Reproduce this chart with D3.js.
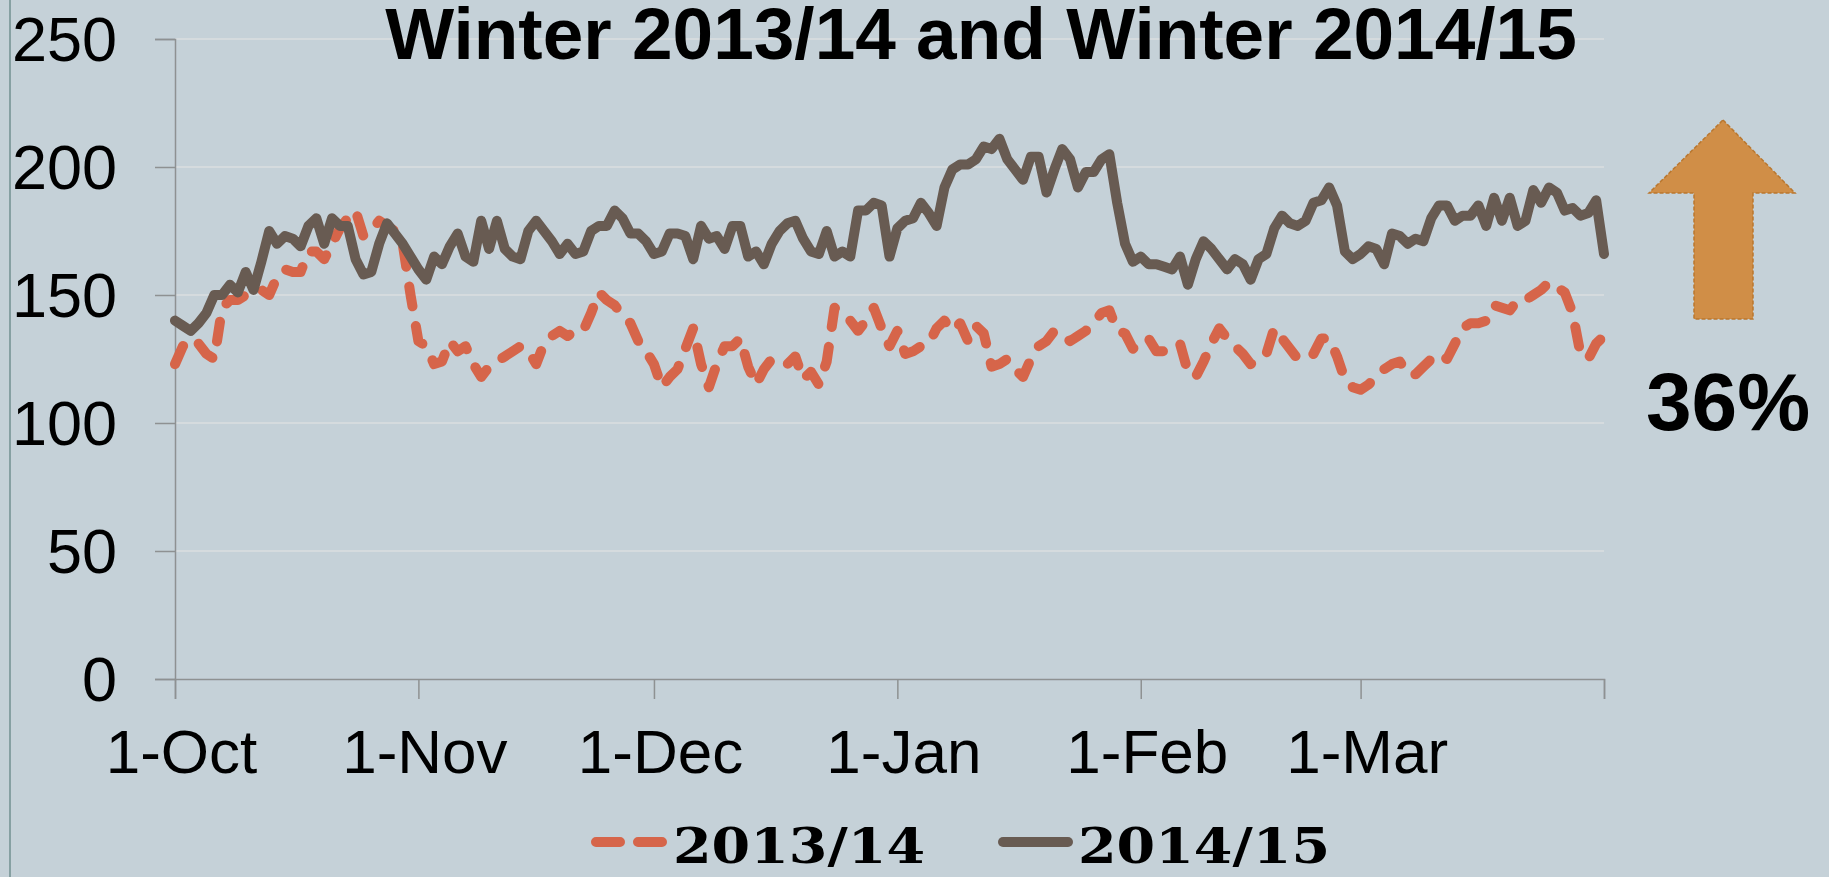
<!DOCTYPE html>
<html>
<head>
<meta charset="utf-8">
<script src="https://cdnjs.cloudflare.com/ajax/libs/d3/7.8.5/d3.min.js"></script>
<style>
  html, body { margin: 0; padding: 0; background: #C5D1D8; overflow: hidden; }
  text { font-family: "Liberation Sans", Arial, sans-serif; fill: #000; }
</style>
</head>
<body>
<div id="chart"></div>
<script>

// Daily readings, 1-Oct to 1-Apr
var season1415 = [
	140, 138, 136, 139, 143, 150, 150, 154, 151, 159,
	152, 163, 175, 170, 173, 172, 169, 177, 180, 170,
	180, 177, 177, 164, 158, 159, 170, 178, 174, 170,
	165, 160, 156, 165, 162, 169, 174, 165, 163, 179,
	168, 179, 168, 165, 164, 175, 179, 175, 171, 166,
	170, 166, 167, 175, 177, 177, 183, 180, 174, 174,
	171, 166, 167, 174, 174, 173, 164, 177, 172, 173,
	168, 177, 177, 165, 167, 162, 170, 175, 178, 179,
	172, 167, 166, 175, 165, 167, 165, 183, 183, 186,
	185, 165, 176, 179, 180, 186, 182, 177, 192, 199,
	201, 201, 203, 208, 207, 211, 203, 199, 195, 204,
	204, 190, 199, 207, 203, 192, 198, 198, 203, 205,
	186, 170, 163, 165, 162, 162, 161, 160, 165, 154,
	164, 171, 168, 164, 160, 164, 162, 156, 164, 166,
	176, 181, 178, 177, 179, 186, 187, 192, 185, 167,
	164, 166, 169, 168, 162, 174, 173, 170, 172, 171,
	180, 185, 185, 179, 181, 181, 185, 177, 188, 179,
	188, 177, 179, 191, 186, 192, 190, 183, 184, 181,
	182, 187, 166
];

var season1314 = [
	123, 130, 133, 131, 127, 125, 145, 148, 148, 150,
	151, 152, 150, 157, 160, 159, 159, 167, 167, 164,
	170, 176, 180, 183, 173, 175, 179, 177, 175, 170,
	150, 132, 130, 123, 124, 132, 128, 130, 123, 118,
	122, 124, 126, 128, 130, 128, 123, 131, 134, 136,
	134, 136, 136, 143, 151, 148, 146, 142, 139, 132,
	128, 123, 114, 118, 121, 129, 137, 123, 114, 123,
	130, 130, 133, 122, 115, 121, 125, 124, 123, 126,
	117, 120, 115, 124, 145, 143, 140, 136, 140, 145,
	137, 130, 136, 127, 128, 130, 131, 137, 140, 136,
	139, 132, 138, 135, 122, 123, 125, 121, 118, 125,
	130, 132, 136, 134, 132, 134, 136, 139, 143, 144,
	136, 135, 129, 132, 133, 128, 128, 130, 131, 120,
	118, 124, 131, 137, 133, 130, 127, 123, 125, 127,
	137, 133, 129, 125, 126, 127, 133, 133, 126, 117,
	114, 113, 115, 118, 121, 123, 124, 119, 119, 122,
	125, 127, 125, 131, 137, 139, 139, 140, 146, 145,
	144, 148, 148, 150, 152, 155, 153, 151, 143, 127,
	125, 131, 134
];

var seriesNames = ["2013/14", "2014/15"];
var yTicks = [0, 50, 100, 150, 200, 250];
var titleText = "Winter 2013/14 and Winter 2014/15";
var changeText = "36%";

var width = 1829,
height = 877;

var margin = {left: 175, right: 225, top: 39, bottom: 198};

var brown = "#685B52",
orange = "#D6654A";

var svg = d3.select("#chart")
.append("svg")
.attr("width", width)
.attr("height", height);

// background and the thin frame line at the left
svg.append("rect")
.attr("width", width)
.attr("height", height)
.attr("fill", "#C5D1D8");

svg.append("line")
.attr("x1", 10).attr("x2", 10)
.attr("y1", 0).attr("y2", height)
.attr("stroke", "#86A0A2")
.attr("stroke-width", 2);

// Scales
var start = new Date(Date.UTC(2014, 9, 1));
var end = new Date(Date.UTC(2015, 3, 1));

var x = d3.scaleUtc()
.domain([start, end])
.range([margin.left, width - margin.right]);

var y = d3.scaleLinear()
.domain([0, 250])
.range([height - margin.bottom, margin.top]);

var dayOf = (d, i) => d3.utcDay.offset(start, i);

// Gridlines
svg.append("g")
.selectAll("line")
.data(yTicks.filter(d => d > 0))
.enter().append("line")
.attr("x1", x.range()[0])
.attr("x2", x.range()[1])
.attr("y1", d => y(d))
.attr("y2", d => y(d))
.attr("stroke", "#DADEE1")
.attr("stroke-width", 1.5);

// Y axis
var yAxis = svg.append("g")
.attr("transform", "translate(" + margin.left + ",0)")
.call(d3.axisLeft(y).tickValues(yTicks).tickSize(20).tickPadding(38));

yAxis.selectAll("text")
.attr("dy", "0.34em")
.style("font-size", "63px");

// X axis, monthly ticks, no label on the closing tick
var months = d3.utcMonth.range(start, d3.utcDay.offset(end, 1));
var fmt = d3.utcFormat("%-d-%b");

var xAxis = svg.append("g")
.attr("transform", "translate(0," + y(0) + ")")
.call(d3.axisBottom(x).tickValues(months).tickSize(20).tickPadding(30)
	.tickFormat(d => +d == +end ? "" : fmt(d)));

xAxis.selectAll("text")
.attr("dx", 6)
.attr("dy", "0.71em")
.style("font-size", "62px");

svg.selectAll(".domain, .tick line")
.attr("stroke", "#8E9192")
.attr("stroke-width", 1.5);

// Lines
var line = d3.line()
.x((d, i) => x(dayOf(d, i)))
.y(d => y(d));

svg.append("path")
.datum(season1314)
.attr("d", line)
.attr("fill", "none")
.attr("stroke", orange)
.attr("stroke-width", 10)
.attr("stroke-linecap", "round")
.attr("stroke-linejoin", "round")
.attr("stroke-dasharray", "20,20");

svg.append("path")
.datum(season1415)
.attr("d", line)
.attr("fill", "none")
.attr("stroke", brown)
.attr("stroke-width", 10)
.attr("stroke-linecap", "round")
.attr("stroke-linejoin", "round");

// Title
svg.append("text")
.attr("x", 981)
.attr("y", 59)
.attr("text-anchor", "middle")
.style("font-size", "73px")
.style("font-weight", "bold")
.text(titleText);

// Up arrow with the change label
var arrow = d3.path();
arrow.moveTo(1723, 120);
arrow.lineTo(1795, 193);
arrow.lineTo(1753, 193);
arrow.lineTo(1753, 319);
arrow.lineTo(1694, 319);
arrow.lineTo(1694, 193);
arrow.lineTo(1649, 193);
arrow.closePath();

svg.append("path")
.attr("d", arrow.toString())
.attr("fill", "#D08E47")
.attr("stroke", "#B9772F")
.attr("stroke-width", 1.5)
.attr("stroke-dasharray", "4,2");

svg.append("text")
.attr("x", 1646)
.attr("y", 430)
.style("font-size", "82px")
.style("font-weight", "bold")
.text(changeText);

// Legend
var legend = svg.append("g")
.attr("transform", "translate(0,842)");

var legendItems = [
	{x: 596, w: 66, color: orange, dash: "24,18", tx: 673},
	{x: 1003, w: 65, color: brown, dash: null, tx: 1078}
];

legendItems.forEach(function(d, idx) {

	legend.append("line")
	.attr("x1", d.x)
	.attr("x2", d.x + d.w)
	.attr("stroke", d.color)
	.attr("stroke-width", 10)
	.attr("stroke-linecap", "round")
	.attr("stroke-dasharray", d.dash);

	legend.append("text")
	.attr("x", d.tx)
	.attr("y", 21)
	.attr("textLength", 252)
	.attr("lengthAdjust", "spacingAndGlyphs")
	.style("font-family", "'DejaVu Serif', serif")
	.style("font-size", "48px")
	.style("font-weight", "bold")
	.text(seriesNames[idx]);

});

</script>
</body>
</html>
